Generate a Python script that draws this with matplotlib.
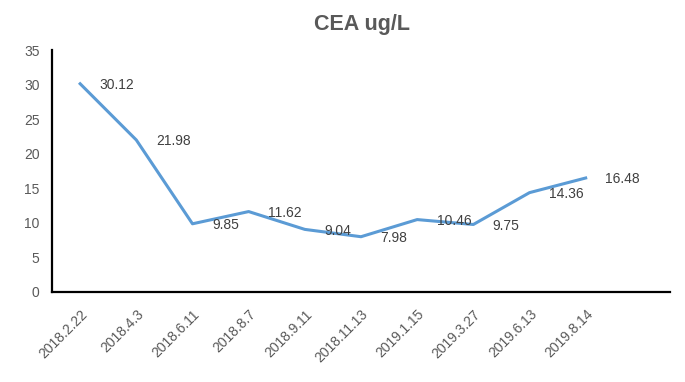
import matplotlib
matplotlib.use('Agg')
import matplotlib.pyplot as plt

# data
dates = ['2018.2.22', '2018.4.3', '2018.6.11', '2018.8.7', '2018.9.11',
         '2018.11.13', '2019.1.15', '2019.3.27', '2019.6.13', '2019.8.14']
cea = [30.12, 21.98, 9.85, 11.62, 9.04, 7.98, 10.46, 9.75, 14.36, 16.48]

plt.rcParams['font.family'] = ['Liberation Sans', 'DejaVu Sans']
grey = '#595959'

fig = plt.figure(figsize=(6.85, 3.82), dpi=100)
ax = fig.add_axes([0.076, 0.236, 0.902, 0.633])

x = list(range(len(dates)))
ax.plot(x, cea, color='#5B9BD5', lw=2.2, solid_joinstyle='round')

# data labels to the right of each point
for xi, v in zip(x, cea):
    ax.annotate(f'{v:.2f}', (xi, v), xytext=(14, -1), textcoords='offset points',
                ha='left', va='center', fontsize=10, color='#404040')

ax.set_xlim(-0.5, len(dates) + 0.5)
ax.set_ylim(0, 35)
ax.set_yticks(range(0, 36, 5))
ax.set_xticks(x)
ax.set_xticklabels(dates, rotation=45, ha='right', rotation_mode='anchor')
ax.tick_params(length=0, labelsize=10, labelcolor=grey)
ax.tick_params(axis='x', pad=11)
ax.tick_params(axis='y', pad=9)

for s in ['top', 'right']:
    ax.spines[s].set_visible(False)
for s in ['left', 'bottom']:
    ax.spines[s].set_linewidth(1.6)
    ax.spines[s].set_color('black')

fig.suptitle('CEA ug/L', x=0.528, y=0.937, va='center', fontsize=15.5,
             fontweight='bold', color=grey)

fig.savefig('out.png', dpi=100)
